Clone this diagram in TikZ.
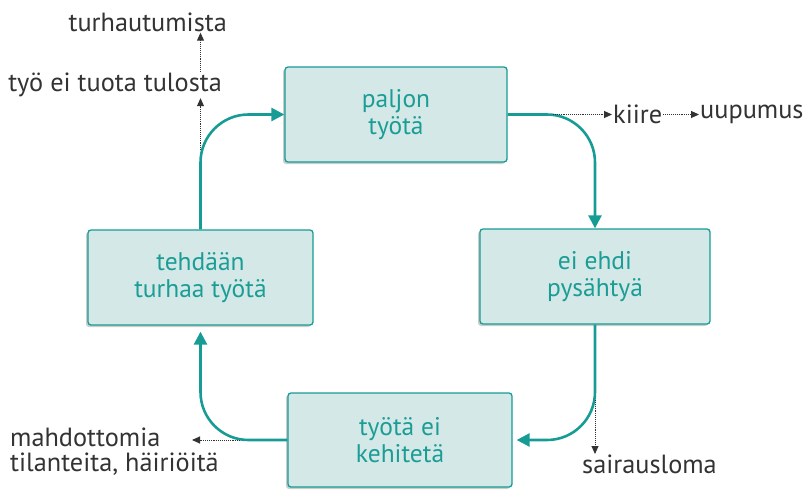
\documentclass[tikz,border=0pt]{standalone}
\usepackage{fontspec}
\setmainfont{PT Sans}
\usetikzlibrary{arrows.meta, shadows}
\definecolor{tealline}{HTML}{169C95}
\definecolor{tealtext}{HTML}{1B9D96}
\definecolor{tealfill}{HTML}{D4E9E7}
\definecolor{dkgray}{HTML}{333333}

\begin{document}
\begin{tikzpicture}[
  x=1pt, y=-1pt,
  box/.style={draw=tealline, line width=1.3pt, fill=tealfill, rounded corners=3pt,
    minimum width=222pt, minimum height=95pt, align=center,
    font=\fontsize{25.5}{27}\selectfont, text=tealtext,
    drop shadow={shadow xshift=-2pt, shadow yshift=-2pt, fill=black!40, opacity=0.5}},
  flow/.style={-{Triangle[length=13pt, width=13pt]}, tealline, line width=2.6pt,
    rounded corners=48pt},
  aside/.style={-{Triangle[length=8pt, width=7pt]}, dkgray, line width=0.9pt, densely dotted},
  note/.style={font=\fontsize{26.3}{25}\selectfont, text=dkgray, inner sep=1pt},
]

\useasboundingbox (0,0) rectangle (809,490);

% ========================================
% Cycle boxes
% ========================================
\node[box] (paljon) at (396,114.5) {paljon\\työtä};
\node[box, minimum width=230pt] (ehdi) at (595,276.5) {ei ehdi\\pysähtyä};
\node[box, minimum width=225pt] (turha) at (200.5,277.5) {tehdään\\turhaa työtä};
\node[box, minimum width=224pt, minimum height=94pt] (kehit) at (400,440) {työtä ei\\kehitetä};

% Cycle arrows
\draw[flow] (paljon.east) -| (ehdi.north);
\draw[flow] (ehdi.south) |- ([xshift=4pt]kehit.east);
\draw[flow] (kehit.west) -| ([yshift=-6pt]turha.south);
\draw[flow] (turha.north) |- (paljon.west);

% ========================================
% Side effects
% ========================================
% top right
\node[note, anchor=west] (kiire) at (612,114.5) {kiire};
\node[note, anchor=west] (uupumus) at (699,114.5) {uupumus};
\coordinate (kiirealku) at (553,114.5);
\draw[aside] (kiirealku) -- (kiire.west);
\draw[aside] (kiire.east) -- (uupumus.west);

% bottom right
\node[note, anchor=north west] (sairaus) at (581,454) {sairausloma};
\coordinate (sairalku) at (595,400);
\draw[aside] (sairalku) -- (sairalku |- sairaus.north);

% bottom left
\node[note, anchor=north west, align=left] (mahd) at (9,427)
  {mahdottomia\\tilanteita, häiriöitä};
\coordinate (mahdalku) at (240,440);
\coordinate (mahdkarki) at (192,440);
\draw[aside] (mahdalku) -- (mahdkarki);

% top left
\node[note, anchor=east] (tyo) at (223,85) {työ ei tuota tulosta};
\node[note, anchor=east] (turh) at (228,22) {turhautumista};
\coordinate (tulos) at (200.5,150);
\draw[aside] (tulos) -- (tulos |- tyo.south);
\draw[aside] (tulos |- tyo.north) -- (tulos |- turh.south);

\end{tikzpicture}
\end{document}
